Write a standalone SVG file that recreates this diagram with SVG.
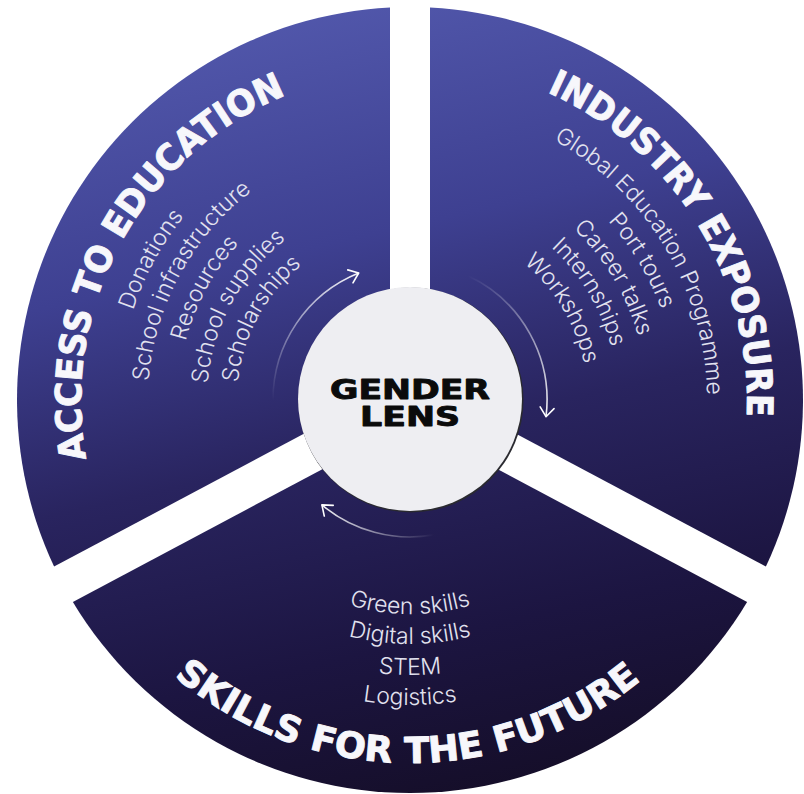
<svg xmlns="http://www.w3.org/2000/svg" xmlns:xlink="http://www.w3.org/1999/xlink" width="804" height="794" viewBox="0 0 804 794">
<defs>
  <linearGradient id="disc" gradientUnits="userSpaceOnUse" x1="300" y1="0" x2="480" y2="794">
    <stop offset="0" stop-color="#5258ac"/>
    <stop offset="0.3" stop-color="#3e4091"/>
    <stop offset="0.55" stop-color="#29245f"/>
    <stop offset="0.8" stop-color="#1c1541"/>
    <stop offset="1" stop-color="#150e29"/>
  </linearGradient>
  <linearGradient id="fa1" gradientUnits="userSpaceOnUse" x1="273" y1="400" x2="358.7" y2="273">
    <stop offset="0" stop-color="#fff" stop-opacity="0"/>
    <stop offset="1" stop-color="#fff" stop-opacity="0.95"/>
  </linearGradient>
  <linearGradient id="fa2" gradientUnits="userSpaceOnUse" x1="467.9" y1="275.8" x2="546" y2="416.7">
    <stop offset="0" stop-color="#fff" stop-opacity="0"/>
    <stop offset="1" stop-color="#fff" stop-opacity="0.95"/>
  </linearGradient>
  <linearGradient id="fa3" gradientUnits="userSpaceOnUse" x1="433.8" y1="534.9" x2="321.9" y2="504.9">
    <stop offset="0" stop-color="#fff" stop-opacity="0"/>
    <stop offset="1" stop-color="#fff" stop-opacity="0.95"/>
  </linearGradient>
  <marker id="head" markerUnits="userSpaceOnUse" markerWidth="24" markerHeight="24" refX="0" refY="0" orient="auto" overflow="visible">
    <path d="M-9,-7 L0,0 L-9,7" fill="none" stroke="#ffffff" stroke-width="1.6" stroke-linecap="round" stroke-linejoin="round"/>
  </marker>
  <path id="tLeft" d="M128.6,570.4 A329,329 0 0 1 403.1,71.1"/>
  <path id="tRight" d="M400.6,63.1 A337,337 0 0 1 706.4,560.3"/>
  <path id="tBottom" d="M94,578.7 A363,363 0 0 0 722.8,584.2"/>
  <path id="l1" d="M192,592.8 A291,291 0 0 1 453,112.2"/>
  <path id="l2" d="M213.8,573.6 A262,262 0 0 1 448.7,140.9"/>
  <path id="l3" d="M236.2,553.7 A232,232 0 0 1 444.3,170.6"/>
  <path id="l4" d="M258,534.5 A203,203 0 0 1 440,199.2"/>
  <path id="l5" d="M280.4,514.6 A173,173 0 0 1 435.6,228.9"/>
  <path id="r1" d="M353.3,108.5 A297,297 0 0 1 640.8,586.9"/>
  <path id="r2" d="M359.1,137.9 A267,267 0 0 1 617.5,568"/>
  <path id="r3" d="M364.8,167.4 A237,237 0 0 1 594.2,549.1"/>
  <path id="r4" d="M370.3,195.8 A208,208 0 0 1 571.6,530.9"/>
  <path id="r5" d="M376,225.3 A178,178 0 0 1 548.3,512"/>
  <path id="b1" d="M208.9,473.2 A214,214 0 0 0 611.1,473.2"/>
  <path id="b2" d="M180.7,483.4 A244,244 0 0 0 639.3,483.4"/>
  <path id="b3" d="M151.6,494.1 A275,275 0 0 0 668.4,494.1"/>
  <path id="b4" d="M123.4,504.3 A305,305 0 0 0 696.6,504.3"/>
</defs>
<style>
  .sector{fill:url(#disc)}
  .title{font-family:"DejaVu Sans","Liberation Sans",sans-serif;font-weight:bold;font-size:36px;fill:#f7f7fb;stroke:#f7f7fb;stroke-width:0.9;stroke-linejoin:round}
  .item{font-family:Inter,"Liberation Sans",sans-serif;font-weight:300;font-size:23px;fill:#e2e2ef}
  .arrow{fill:none;stroke-width:1.6;marker-end:url(#head)}
  .hub-text{font-family:"DejaVu Sans","Liberation Sans",sans-serif;font-weight:bold;font-size:26px;fill:#0b0b0b;stroke:#0b0b0b;stroke-width:0.9;stroke-linejoin:round}
</style>
<rect width="804" height="794" fill="#ffffff"/>

<g id="access-to-education">
  <path class="sector" d="M390,387.98 L390,7.51 A393,393 0 0 0 54.08,566.61 Z"/>
  <text class="title" text-anchor="middle"><textPath xlink:href="#tLeft" href="#tLeft" startOffset="50%" textLength="449" lengthAdjust="spacingAndGlyphs">ACCESS TO EDUCATION</textPath></text>
  <g class="item" text-anchor="middle">
    <text><textPath xlink:href="#l1" href="#l1" startOffset="50%">Donations</textPath></text>
    <text><textPath xlink:href="#l2" href="#l2" startOffset="50%">School infrastructure</textPath></text>
    <text><textPath xlink:href="#l3" href="#l3" startOffset="50%">Resources</textPath></text>
    <text><textPath xlink:href="#l4" href="#l4" startOffset="50%">School supplies</textPath></text>
    <text><textPath xlink:href="#l5" href="#l5" startOffset="50%">Scholarships</textPath></text>
  </g>
</g>

<g id="industry-exposure">
  <path class="sector" d="M430,387.98 L430,7.51 A393,393 0 0 1 765.92,566.61 Z"/>
  <text class="title" text-anchor="middle"><textPath xlink:href="#tRight" href="#tRight" startOffset="50%" textLength="405" lengthAdjust="spacingAndGlyphs">INDUSTRY EXPOSURE</textPath></text>
  <g class="item" text-anchor="middle">
    <text><textPath xlink:href="#r1" href="#r1" startOffset="50%">Global Education Programme</textPath></text>
    <text><textPath xlink:href="#r2" href="#r2" startOffset="50%">Port tours</textPath></text>
    <text><textPath xlink:href="#r3" href="#r3" startOffset="50%">Career talks</textPath></text>
    <text><textPath xlink:href="#r4" href="#r4" startOffset="50%">Internships</textPath></text>
    <text><textPath xlink:href="#r5" href="#r5" startOffset="50%">Workshops</textPath></text>
  </g>
</g>

<g id="skills-for-the-future">
  <path class="sector" d="M410,422.65 L72.86,601.93 A393,393 0 0 0 747.14,601.93 Z"/>
  <text class="title" text-anchor="middle"><textPath xlink:href="#tBottom" href="#tBottom" startOffset="50%" textLength="507" lengthAdjust="spacingAndGlyphs">SKILLS FOR THE FUTURE</textPath></text>
  <g class="item" text-anchor="middle">
    <text><textPath xlink:href="#b1" href="#b1" startOffset="50%">Green skills</textPath></text>
    <text><textPath xlink:href="#b2" href="#b2" startOffset="50%">Digital skills</textPath></text>
    <text><textPath xlink:href="#b3" href="#b3" startOffset="50%">STEM</textPath></text>
    <text><textPath xlink:href="#b4" href="#b4" startOffset="50%">Logistics</textPath></text>
  </g>
</g>

<g id="connectors">
  <path class="arrow" stroke="url(#fa1)" d="M273,400 A137,137 0 0 1 358.7,273"/>
  <path class="arrow" stroke="url(#fa2)" d="M467.9,275.8 A137,137 0 0 1 546,416.7"/>
  <path class="arrow" stroke="url(#fa3)" d="M433.8,534.9 A137,137 0 0 1 321.9,504.9"/>
</g>

<g id="gender-lens">
  <circle cx="411" cy="400" r="112.5" fill="#2a2a30"/>
  <circle cx="410" cy="399" r="112" fill="#eeeef2"/>
  <text class="hub-text" x="410" y="399" text-anchor="middle" textLength="160" lengthAdjust="spacingAndGlyphs">GENDER</text>
  <text class="hub-text" x="410" y="425.5" text-anchor="middle" textLength="100" lengthAdjust="spacingAndGlyphs">LENS</text>
</g>
</svg>
